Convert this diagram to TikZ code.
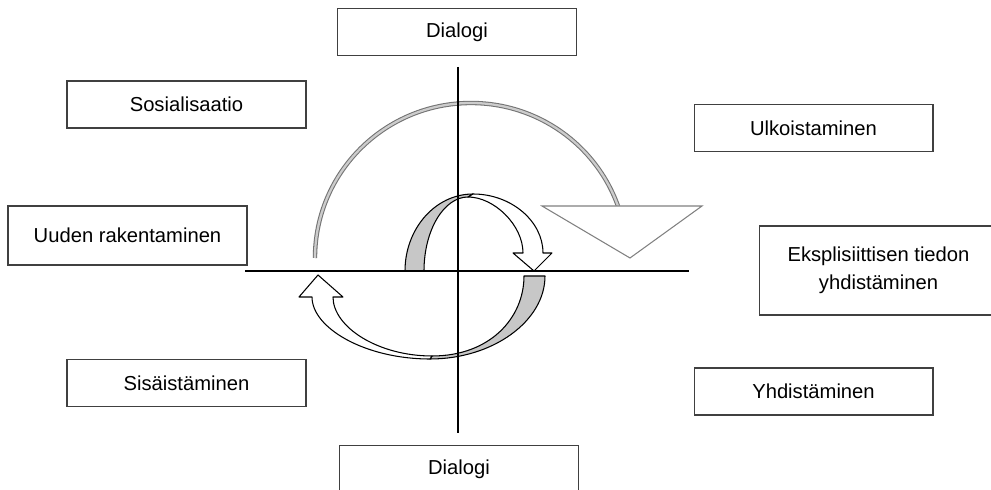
\documentclass[tikz,border=0pt]{standalone}
\usepackage{fontspec}
\setmainfont{Liberation Sans}
\begin{document}
\begin{tikzpicture}[x=0.02cm,y=0.02cm,
    laatikko/.style={draw=black!75,line width=0.6pt,minimum width=4.78cm,minimum height=0.94cm,inner sep=0pt,align=center,font=\fontsize{11.5}{16}\selectfont},
    nauha/.style={draw=black,line width=0.6pt,line join=round}]
        \useasboundingbox (0,0) rectangle (991,490);
        %laatikot
        \node[laatikko] (dialogiy) at (457,458) {Dialogi};
        \node[laatikko] (sosiaal) at (186.5,385.5) {Sosialisaatio};
        \node[laatikko,minimum height=1.18cm] (uuden) at (127.5,254.5) {Uuden rakentaminen};
        \node[laatikko] (ulko) at (813.5,362) {Ulkoistaminen};
        \node[laatikko,minimum height=1.78cm] (ekspl) at (878.5,219.5) {Eksplisiittisen tiedon\\yhdistäminen};
        \node[laatikko] (sisa) at (186.5,107) {Sisäistäminen};
        \node[laatikko] (yhdis) at (813.5,98.5) {Yhdistäminen};
        \node[laatikko] (dialogia) at (459,21) {Dialogi};
        %iso kaari ja nuolenkärki
        \draw[black!55,line width=0.6pt,double=black!20,double distance=1.3pt] (315,232) arc[start angle=180,end angle=19.5,x radius=156,y radius=155];
        \draw[black!50,line width=0.6pt,fill=white] (542,284)--(702,284)--(630,232)--cycle;
        %ylempi silmukka
        \draw[nauha,fill=black!22] (405,219) .. controls (405,261.5) and (435.5,296) .. (473,296)
            -- (468,293) .. controls (444,293) and (424,260) .. (424,219) -- cycle;
        \draw[nauha,fill=white] (473,296) .. controls (511,296) and (543,269) .. (543,237)
            -- (552,237) -- (534,219) -- (513,237) -- (523,237)
            .. controls (523,265) and (494,293) .. (468,293) -- cycle;
        %alempi silmukka
        \draw[nauha,fill=black!22] (545,214) .. controls (545,169) and (493,131) .. (430,131)
            -- (432,134) .. controls (490,134) and (524,172) .. (524,214) -- cycle;
        \draw[nauha,fill=white] (430,131) .. controls (365,131) and (312,162) .. (312,193)
            -- (299,193) -- (318,215) -- (343,193) -- (333,193)
            .. controls (333,163) and (378,134) .. (432,134) -- cycle;
        %akselit
        \coordinate (ylos) at (458,423);
        \coordinate (alas) at (458,57);
        \coordinate (vasen) at (245,219);
        \coordinate (oikea) at (689,219);
        \draw[line width=1.2pt] (ylos)--(alas);
        \draw[line width=1.2pt] (vasen)--(oikea);
    \end{tikzpicture}
\end{document}
